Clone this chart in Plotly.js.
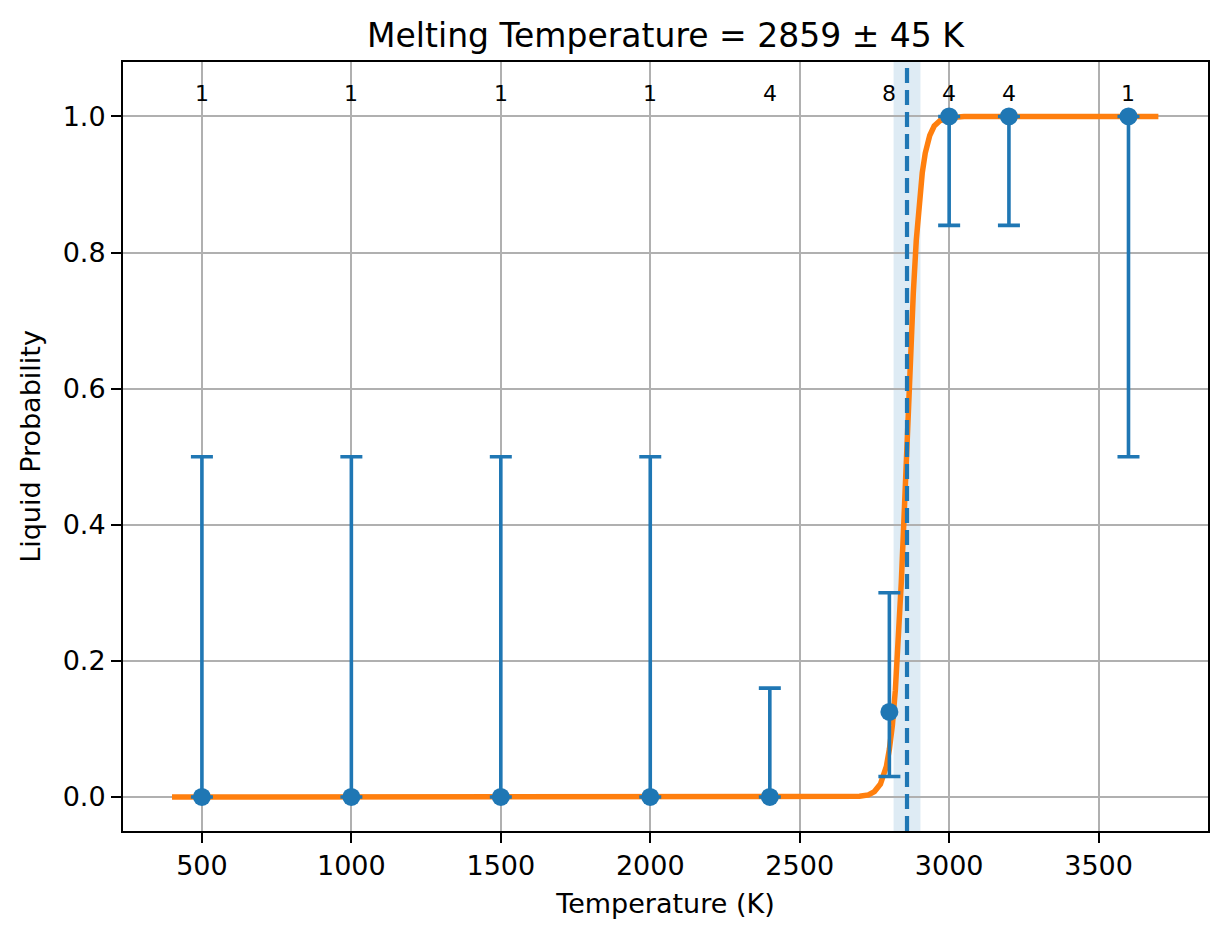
<!DOCTYPE html>
<html>
<head>
<meta charset="utf-8">
<script src="https://cdn.plot.ly/plotly-3.0.1.min.js"></script>
<style>
  html, body { margin: 0; padding: 0; background: #ffffff; }
  #main-screen { width: 1227px; height: 939px; }
</style>
</head>
<body>
<div id="main-screen"></div>
<script>
// ------------------------------------------------------------------------------
// DATA

// Simulation temperatures and liquid fraction
const temps   = [500, 1000, 1500, 2000, 2400, 2800, 3000, 3200, 3600];
const probs   = [0, 0, 0, 0, 0, 0.125, 1, 1, 1];
const upperCI = [0.5, 0.5, 0.5, 0.5, 0.16, 0.30, 1, 1, 1];
const lowerCI = [0, 0, 0, 0, 0, 0.03, 0.84, 0.84, 0.5];
const counts  = [1, 1, 1, 1, 4, 8, 4, 4, 1];

// Fitted curve
const fitT = [400, 2650, 2700, 2730, 2750, 2770, 2790, 2800, 2810, 2820, 2830, 2840, 2850,
              2860, 2870, 2880, 2890, 2900, 2910, 2920, 2935, 2950, 2970, 3000, 3050, 3700];
const fitP = [0, 0, 0.001, 0.003, 0.008, 0.019, 0.045, 0.070, 0.105, 0.157, 0.226, 0.316, 0.421,
              0.534, 0.644, 0.740, 0.818, 0.876, 0.917, 0.946, 0.972, 0.986, 0.994, 0.998, 1, 1];

// Melting temperature estimate
const tMelt = 2859;
const tErr  = 45;

// ------------------------------------------------------------------------------
// STYLE

const font_family = '"DejaVu Sans", Arial, sans-serif';
const blue   = '#1f77b4';
const orange = '#ff7f0e';
const grid   = '#b0b0b0';

const fit_curve = {
    x: fitT,
    y: fitP,
    mode: 'lines',
    type: 'scatter',
    line: { color: orange, width: 5.5 },
    hoverinfo: 'none'
};

const points = {
    x: temps,
    y: probs,
    mode: 'markers',
    type: 'scatter',
    marker: { color: blue, size: 18 },
    error_y: {
        type: 'data',
        symmetric: false,
        array: upperCI.map((u, i) => u - probs[i]),
        arrayminus: lowerCI.map((l, i) => probs[i] - l),
        color: blue,
        thickness: 3.6,
        width: 11
    },
    hoverinfo: 'none'
};

const annotations = temps.map((t, i) => ({
    text: String(counts[i]),
    x: t,
    y: 1.013,
    xref: 'x',
    yref: 'y',
    xanchor: 'center',
    yanchor: 'bottom',
    showarrow: false,
    font: { family: font_family, size: 22, color: 'black' }
}));

const axis_common = {
    showgrid: true,
    gridcolor: grid,
    gridwidth: 2,
    zeroline: false,
    showline: true,
    linecolor: 'black',
    linewidth: 2,
    mirror: true,
    ticks: 'outside',
    ticklen: 10,
    tickwidth: 2,
    tickcolor: 'black',
    tickfont: { family: font_family, size: 27, color: 'black' }
};

const layout = {
    width: 1227,
    height: 939,
    showlegend: false,
    paper_bgcolor: 'white',
    plot_bgcolor: 'white',
    margin: { l: 123, r: 19, t: 62, b: 108, pad: 0 },
    title: {
        text: 'Melting Temperature = ' + tMelt + ' ± ' + tErr + ' K',
        x: 0.5,
        xref: 'paper',
        xanchor: 'center',
        y: 1 - 35 / 939,
        yref: 'container',
        yanchor: 'middle',
        font: { family: font_family, size: 33, color: 'black' }
    },
    xaxis: Object.assign({}, axis_common, {
        range: [236, 3866],
        tickvals: [500, 1000, 1500, 2000, 2500, 3000, 3500],
        title: { text: 'Temperature (K)', standoff: 14,
                 font: { family: font_family, size: 27, color: 'black' } }
    }),
    yaxis: Object.assign({}, axis_common, {
        range: [-0.05, 1.08],
        tickvals: [0, 0.2, 0.4, 0.6, 0.8, 1.0],
        tickformat: '.1f',
        title: { text: 'Liquid Probability', standoff: 14,
                 font: { family: font_family, size: 27, color: 'black' } }
    }),
    shapes: [
        {
            type: 'rect',
            xref: 'x', yref: 'paper',
            x0: tMelt - tErr, x1: tMelt + tErr,
            y0: 0, y1: 1,
            fillcolor: 'rgba(31,119,180,0.15)',
            line: { width: 0 },
            layer: 'below'
        },
        {
            type: 'line',
            xref: 'x', yref: 'paper',
            x0: tMelt, x1: tMelt,
            y0: 0, y1: 1,
            line: { color: blue, width: 4.2, dash: '15px,7px' },
            layer: 'above'
        }
    ],
    annotations: annotations
};

Plotly.newPlot('main-screen', [fit_curve, points], layout, { displayModeBar: false, staticPlot: true });
</script>
</body>
</html>
